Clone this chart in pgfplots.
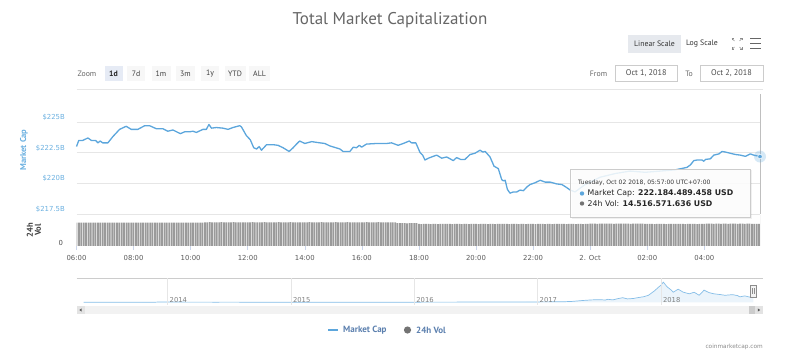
\documentclass[border=0pt]{standalone}
\usepackage{pgfplots}
\pgfplotsset{compat=1.18}
\usepackage{fontspec}
\setmainfont{DejaVu Sans}
\newfontfamily\pts{PT Sans}
\definecolor{mcblue}{HTML}{5CA6DC}
\definecolor{lblblue}{HTML}{6BB0E0}
\definecolor{gridc}{HTML}{E6E6E6}
\definecolor{volc}{HTML}{9A9A9A}
\definecolor{legc}{HTML}{5B7FAE}
\definecolor{navfill}{HTML}{E8F3FB}
\definecolor{navline}{HTML}{86BEE8}
\definecolor{btnsel}{HTML}{E6EBF5}
\definecolor{btnbg}{HTML}{F7F7F7}
\definecolor{scalebg}{HTML}{E6E9EE}
\definecolor{tickc}{HTML}{CCD6EB}

\begin{document}
\begin{tikzpicture}
% ---------- header ----------
\node[font=\pts\fontsize{17}{20}\selectfont, text=black!60] at (390pt,-20pt) {Total Market Capitalization};
\fill[scalebg] (628pt,-35pt) rectangle (681pt,-53pt);
\node[font=\pts\fontsize{7.8}{9}\selectfont, text=black!80] at (654.5pt,-44pt) {Linear Scale};
\node[font=\pts\fontsize{7.8}{9}\selectfont, text=black!80] at (702pt,-44pt) {Log Scale};
% full screen icon
\begin{scope}[black!45, line width=0.6pt]
\draw (732pt,-40.5pt) -- (732pt,-38.5pt) -- (734pt,-38.5pt);
\draw (732pt,-38.5pt) -- (734.5pt,-41pt);
\draw (742pt,-40.5pt) -- (742pt,-38.5pt) -- (740pt,-38.5pt);
\draw (742pt,-38.5pt) -- (739.5pt,-41pt);
\draw (732pt,-47.5pt) -- (732pt,-49.5pt) -- (734pt,-49.5pt);
\draw (732pt,-49.5pt) -- (734.5pt,-47pt);
\draw (742pt,-47.5pt) -- (742pt,-49.5pt) -- (740pt,-49.5pt);
\draw (742pt,-49.5pt) -- (739.5pt,-47pt);
\end{scope}
\begin{scope}[black!60, line width=1.8pt]
\draw (750pt,-38.5pt) -- (761pt,-38.5pt);
\draw (750pt,-43.5pt) -- (761pt,-43.5pt);
\draw (750pt,-48.5pt) -- (761pt,-48.5pt);
\end{scope}
% zoom buttons
\node[font=\pts\fontsize{7.8}{9}\selectfont, text=black!60] at (87pt,-73.5pt) {Zoom};
\fill[btnsel] (104.5pt,-66pt) rectangle (122.5pt,-81.5pt);
\node[font=\pts\bfseries\fontsize{7.8}{9}\selectfont, text=black!85] at (113.5pt,-73.5pt) {1d};
\foreach \c/\w/\t in {136/9/7d,161/9.5/1m,185.5/9.5/3m,210/9/1y,235/10.5/YTD,259.5/10.5/ALL}{
  \fill[btnbg] (\c pt-\w pt,-66pt) rectangle (\c pt+\w pt,-81.5pt);
  \node[font=\pts\fontsize{7.8}{9}\selectfont, text=black!75] at (\c pt,-73.5pt) {\t};
}
\node[font=\pts\fontsize{7.8}{9}\selectfont, text=black!60] at (598.5pt,-73.5pt) {From};
\draw[black!20, fill=white] (615pt,-65.5pt) rectangle (677.5pt,-81.5pt);
\node[font=\pts\fontsize{8.2}{9}\selectfont, text=black!70] at (646.25pt,-73.5pt) {Oct 1, 2018};
\node[font=\pts\fontsize{7.8}{9}\selectfont, text=black!60] at (689pt,-73.5pt) {To};
\draw[black!20, fill=white] (700pt,-65.5pt) rectangle (763pt,-81.5pt);
\node[font=\pts\fontsize{8.2}{9}\selectfont, text=black!70] at (731.5pt,-73.5pt) {Oct 2, 2018};
\draw[gridc, line width=0.8pt] (76.5pt,-89.5pt) -- (763pt,-89.5pt);

% ---------- price panel ----------
\begin{axis}[at={(76.5pt,-214pt)}, anchor=south west, scale only axis,
  width=683.5pt, height=120.2pt,
  xmin=0, xmax=23.95, ymin=217.5, ymax=227.3, clip=false,
  axis line style={draw=none}, xtick=\empty,
  ytick={217.5,220,222.5,225},
  yticklabels={\$217.5B,\$220B,\$222.5B,\$225B},
  ymajorgrids, major grid style={draw=gridc, line width=0.8pt},
  major tick length=0pt,
  yticklabel style={font=\fontsize{6.9}{8}\selectfont, text=lblblue, anchor=east, inner sep=0pt, xshift=-11.5pt, yshift=4.5pt}]
\draw[black!25, line width=0.6pt] (axis cs:23.95,217.5) -- (axis cs:23.95,227.3);
\addplot[mcblue, line width=1.3pt, line join=round] coordinates {
(0.00,223.0)(0.08,223.5)(0.22,223.5)(0.40,223.7)(0.52,223.5)(0.67,223.5)(0.75,223.3)(0.83,223.45)(0.92,223.3)(1.10,223.3)(1.27,223.8)(1.51,224.4)(1.74,224.65)(1.92,224.4)(2.15,224.4)(2.39,224.7)(2.56,224.7)(2.80,224.45)(3.03,224.45)(3.20,224.25)(3.38,224.35)(3.64,224.05)(3.79,224.2)(3.96,224.2)(4.08,224.25)(4.20,224.15)(4.43,224.4)(4.55,224.4)(4.64,224.8)(4.73,224.5)(4.90,224.55)(5.13,224.5)(5.31,224.4)(5.48,224.55)(5.72,224.7)(5.78,224.6)(5.95,223.9)(6.09,223.55)(6.21,222.9)(6.31,222.8)(6.40,223.0)(6.48,222.7)(6.66,223.15)(6.89,223.15)(7.06,223.1)(7.24,222.9)(7.45,222.6)(7.59,222.9)(7.73,223.25)(7.82,223.45)(8.00,223.25)(8.24,223.4)(8.53,223.3)(8.70,223.25)(8.88,223.05)(9.23,222.8)(9.34,222.6)(9.58,222.6)(9.70,222.95)(9.81,222.9)(9.91,223.1)(9.99,222.95)(10.16,223.2)(10.52,223.25)(10.87,223.25)(11.04,223.3)(11.27,223.1)(11.45,223.25)(11.66,223.45)(11.74,223.3)(11.89,223.3)(12.04,222.5)(12.13,222.3)(12.21,221.9)(12.33,222.05)(12.50,222.2)(12.62,222.3)(12.80,222.05)(12.97,222.15)(13.09,222.0)(13.20,221.85)(13.32,222.1)(13.46,221.95)(13.61,221.95)(13.79,222.35)(13.96,222.45)(14.14,222.7)(14.24,222.55)(14.32,222.6)(14.49,222.15)(14.63,221.4)(14.78,221.2)(14.90,220.3)(14.96,220.2)(15.02,220.25)(15.10,219.5)(15.19,219.2)(15.31,219.3)(15.43,219.3)(15.54,219.45)(15.66,219.4)(15.78,219.7)(15.89,219.9)(16.07,220.05)(16.25,220.25)(16.42,220.1)(16.60,220.1)(16.83,219.95)(17.01,219.9)(17.18,219.65)(17.30,219.45)(17.47,219.3)(17.82,219.9)(18.35,220.5)(18.88,220.8)(19.40,221.0)(19.93,220.9)(20.46,221.0)(20.98,221.1)(21.39,221.3)(21.51,221.5)(21.63,221.85)(21.74,221.9)(21.92,221.9)(21.98,221.8)(22.04,221.95)(22.21,222.0)(22.33,222.3)(22.51,222.4)(22.62,222.6)(22.74,222.55)(22.91,222.45)(23.09,222.35)(23.26,222.3)(23.44,222.2)(23.61,222.4)(23.73,222.3)(23.95,222.184)
};
\addplot[mcblue, only marks, mark=*, mark size=6pt, mark options={fill=mcblue, draw opacity=0, fill opacity=0.25}] coordinates {(23.95,222.184)};
\addplot[mcblue, only marks, mark=*, mark size=2.3pt, mark options={fill=mcblue, draw=white, line width=0.5pt}] coordinates {(23.95,222.184)};
\end{axis}

% ---------- volume panel ----------
\begin{axis}[at={(76.5pt,-246pt)}, anchor=south west, scale only axis,
  width=683.5pt, height=31pt,
  xmin=0, xmax=23.95, ymin=0, ymax=20.4,
  axis line style={draw=none},
  ytick={0}, yticklabels={0}, ytick pos=left,
  xtick={0,2,4,6,8,10,12,14,16,18,20,22},
  xticklabels={06:00,08:00,10:00,12:00,14:00,16:00,18:00,20:00,22:00,2. Oct,02:00,04:00},
  xtick pos=bottom, tick align=outside, major tick length=4pt,
  x tick style={draw=tickc, line width=0.6pt}, y tick style={draw=none},
  yticklabel style={font=\fontsize{6.9}{8}\selectfont, text=black!70, anchor=east, inner sep=0pt, xshift=-9.2pt, yshift=3.3pt},
  xticklabel style={font=\fontsize{6.9}{8}\selectfont, text=black!65, anchor=north, inner sep=0pt, yshift=-5pt}]
\draw[black!25, line width=0.6pt] (axis cs:23.95,0) -- (axis cs:23.95,20.4);
\addplot[ybar, bar width=1.75pt, fill=volc, draw=none] table[row sep=\\, x expr=\coordindex/12, y=v] {v\\
15.35\\15.3\\15.35\\15.4\\15.35\\15.3\\15.35\\15.35\\15.3\\15.4\\15.35\\15.35\\
15.35\\15.4\\15.3\\15.35\\15.35\\15.3\\15.35\\15.4\\15.35\\15.3\\15.35\\15.35\\
15.35\\15.3\\15.35\\15.4\\15.35\\15.3\\15.35\\15.35\\15.3\\15.4\\15.35\\15.35\\
15.35\\15.4\\15.3\\15.35\\15.35\\15.3\\15.35\\15.4\\15.35\\15.3\\15.35\\15.35\\
15.35\\15.3\\15.35\\15.4\\15.35\\15.35\\15.6\\15.6\\15.65\\15.6\\15.55\\15.6\\
15.6\\15.65\\15.6\\15.55\\15.6\\15.6\\15.65\\15.6\\15.6\\15.55\\15.6\\15.6\\
15.6\\15.6\\15.65\\15.6\\15.55\\15.6\\15.6\\15.65\\15.6\\15.6\\15.55\\15.6\\
15.6\\15.65\\15.6\\15.55\\15.6\\15.6\\15.65\\15.6\\15.6\\15.55\\15.6\\15.6\\
15.6\\15.6\\15.65\\15.6\\15.55\\15.6\\15.6\\15.65\\15.6\\15.6\\15.55\\15.6\\
15.6\\15.65\\15.6\\15.55\\15.6\\15.6\\15.65\\15.6\\15.6\\15.55\\15.6\\15.6\\
15.6\\15.6\\15.65\\15.6\\15.55\\15.6\\15.6\\15.65\\15.6\\15.6\\15.55\\15.6\\
15.6\\15.55\\15.6\\15.1\\15.0\\15.05\\15.0\\14.95\\15.0\\15.05\\15.0\\15.0\\
14.5\\14.45\\14.5\\14.55\\14.5\\14.4\\14.5\\14.5\\14.45\\14.5\\14.55\\14.5\\
14.5\\14.5\\14.45\\14.5\\14.55\\14.5\\14.4\\14.5\\14.5\\14.45\\14.5\\14.5\\
14.5\\14.45\\14.5\\14.55\\14.5\\14.4\\14.5\\14.5\\14.45\\14.5\\14.55\\14.5\\
14.5\\14.5\\14.45\\14.5\\14.55\\14.5\\14.4\\14.5\\14.5\\14.45\\14.5\\14.5\\
14.5\\14.45\\14.5\\14.55\\14.5\\14.4\\14.5\\14.5\\14.45\\14.5\\14.55\\14.5\\
14.5\\14.5\\14.45\\14.5\\14.55\\14.5\\14.4\\14.5\\14.5\\14.45\\14.5\\14.5\\
14.7\\14.65\\14.7\\14.6\\14.7\\14.75\\14.7\\14.65\\14.7\\14.7\\14.6\\14.7\\
14.7\\14.7\\14.65\\14.7\\14.75\\14.6\\14.7\\14.7\\14.65\\14.7\\14.7\\14.6\\
14.5\\14.55\\14.5\\14.45\\14.5\\14.5\\14.55\\14.5\\14.45\\14.5\\14.5\\14.55\\
14.5\\14.5\\14.55\\14.5\\14.45\\14.5\\14.55\\14.5\\14.5\\14.45\\14.5\\14.5\\
14.6\\14.7\\14.65\\14.7\\14.6\\14.7\\14.65\\14.6\\14.7\\14.65\\14.6\\14.7\\
14.65\\14.7\\14.6\\14.65\\14.7\\14.6\\14.65\\14.7\\14.6\\14.55\\14.5\\14.52\\
};
\end{axis}

% ---------- navigator ----------
\draw[black!20, line width=0.6pt] (76.5pt,-278pt) -- (763pt,-278pt);
\begin{axis}[at={(76.5pt,-305pt)}, anchor=south west, scale only axis,
  width=686.5pt, height=27pt,
  xmin=2013.262, xmax=2018.828, ymin=-110, ymax=1000,
  axis on top,
  axis line style={draw=none}, ytick=\empty,
  xtick={2014,2015,2016,2017,2018}, xticklabels={2014,2015,2016,2017,2018},
  xtick pos=bottom, major tick length=0pt,
  xmajorgrids, major grid style={draw=gridc, line width=0.7pt},
  xticklabel style={font=\fontsize{6.8}{8}\selectfont, text=black!50, anchor=south west, inner sep=0pt, xshift=2pt, yshift=2.5pt}]
\addplot[draw=none, fill=mcblue, fill opacity=0.12] coordinates {
(2013.32,1.5)(2013.5,1.2)(2013.75,1.8)(2013.9,6)(2013.93,13)(2014.0,11)(2014.1,10)(2014.2,8)(2014.4,7)(2014.5,8)(2014.7,6)(2014.9,5)(2015.0,4.5)(2015.1,3.5)(2015.5,4)(2015.8,4.5)(2015.9,6.5)(2016.0,7)(2016.3,8)(2016.45,12)(2016.6,11)(2016.9,13)(2017.0,17)(2017.2,22)(2017.28,38)(2017.38,80)(2017.44,100)(2017.5,110)(2017.55,95)(2017.57,125)(2017.61,100)(2017.65,150)(2017.69,190)(2017.73,140)(2017.78,160)(2017.81,190)(2017.86,230)(2017.9,290)(2017.95,480)(2017.98,620)(2018.0,700)(2018.02,830)(2018.05,640)(2018.08,520)(2018.10,415)(2018.14,540)(2018.18,420)(2018.23,350)(2018.27,415)(2018.31,290)(2018.35,500)(2018.39,400)(2018.43,350)(2018.48,320)(2018.52,290)(2018.58,315)(2018.62,280)(2018.64,225)(2018.68,265)(2018.72,215)(2018.74,195)(2018.75,222)
} \closedcycle;
\addplot[navline, line width=0.7pt] coordinates {
(2013.32,1.5)(2013.5,1.2)(2013.75,1.8)(2013.9,6)(2013.93,13)(2014.0,11)(2014.1,10)(2014.2,8)(2014.4,7)(2014.5,8)(2014.7,6)(2014.9,5)(2015.0,4.5)(2015.1,3.5)(2015.5,4)(2015.8,4.5)(2015.9,6.5)(2016.0,7)(2016.3,8)(2016.45,12)(2016.6,11)(2016.9,13)(2017.0,17)(2017.2,22)(2017.28,38)(2017.38,80)(2017.44,100)(2017.5,110)(2017.55,95)(2017.57,125)(2017.61,100)(2017.65,150)(2017.69,190)(2017.73,140)(2017.78,160)(2017.81,190)(2017.86,230)(2017.9,290)(2017.95,480)(2017.98,620)(2018.0,700)(2018.02,830)(2018.05,640)(2018.08,520)(2018.10,415)(2018.14,540)(2018.18,420)(2018.23,350)(2018.27,415)(2018.31,290)(2018.35,500)(2018.39,400)(2018.43,350)(2018.48,320)(2018.52,290)(2018.58,315)(2018.62,280)(2018.64,225)(2018.68,265)(2018.72,215)(2018.74,195)(2018.75,222)
};
\end{axis}
% navigator handle
\filldraw[fill=black!5, draw=black!45, line width=0.5pt] (750pt,-285pt) rectangle (756pt,-297pt);
\draw[black!45, line width=0.4pt] (752.3pt,-288pt) -- (752.3pt,-294pt);
\draw[black!45, line width=0.4pt] (753.7pt,-288pt) -- (753.7pt,-294pt);
% scrollbar
\fill[black!5] (76.5pt,-306pt) rectangle (763pt,-314pt);
\fill[black!11] (76.5pt,-306pt) rectangle (84.5pt,-314pt);
\fill[black!65] (79.3pt,-310pt) -- (81.7pt,-308.4pt) -- (81.7pt,-311.6pt) -- cycle;
\fill[black!20] (749pt,-306pt) rectangle (755pt,-314pt);
\fill[black!11] (755pt,-306pt) rectangle (763pt,-314pt);
\fill[black!65] (760.2pt,-310pt) -- (757.8pt,-308.4pt) -- (757.8pt,-311.6pt) -- cycle;

% ---------- axis titles ----------
\node[rotate=90, font=\pts\bfseries\fontsize{8.5}{10}\selectfont, text=lblblue] at (24pt,-150pt) {Market Cap};
\node[rotate=90, align=center, font=\pts\bfseries\fontsize{8.5}{8}\selectfont, text=black!75] at (34pt,-230pt) {24h\\Vol};

% ---------- tooltip ----------
\fill[black, opacity=0.06] (571.5pt,-170.5pt) rectangle (752pt,-219.5pt);
\filldraw[fill=white, fill opacity=0.85, draw=black!20, line width=0.6pt] (570pt,-169pt) rectangle (750pt,-217pt);
\node[anchor=west, inner sep=0pt, font=\fontsize{6}{7}\selectfont, text=black!80] at (578pt,-183pt) {Tuesday, Oct 02 2018, 05:57:00 UTC+07:00};
\fill[mcblue] (582pt,-193.5pt) circle (2.2pt);
\node[anchor=west, inner sep=0pt, font=\fontsize{7.8}{9}\selectfont, text=black!85] at (587.5pt,-193.5pt) {Market Cap: \textbf{222.184.489.458 USD}};
\fill[black!55] (582pt,-203.5pt) circle (2.2pt);
\node[anchor=west, inner sep=0pt, font=\fontsize{7.8}{9}\selectfont, text=black!85] at (587.5pt,-203.5pt) {24h Vol: \textbf{14.516.571.636 USD}};

% ---------- legend & credit ----------
\draw[mcblue, line width=1.5pt] (328pt,-330pt) -- (338pt,-330pt);
\node[anchor=west, inner sep=0pt, font=\pts\bfseries\fontsize{9}{10}\selectfont, text=legc] at (343pt,-330pt) {Market Cap};
\fill[black!55] (407.5pt,-330pt) circle (3.6pt);
\node[anchor=west, inner sep=0pt, font=\pts\bfseries\fontsize{9}{10}\selectfont, text=legc] at (416pt,-330pt) {24h Vol};
\node[anchor=east, inner sep=0pt, font=\fontsize{5.8}{7}\selectfont, text=black!45] at (763pt,-347pt) {coinmarketcap.com};

\pgfresetboundingbox
\path (0pt,0pt) rectangle (797pt,-363pt);
\end{tikzpicture}
\end{document}
